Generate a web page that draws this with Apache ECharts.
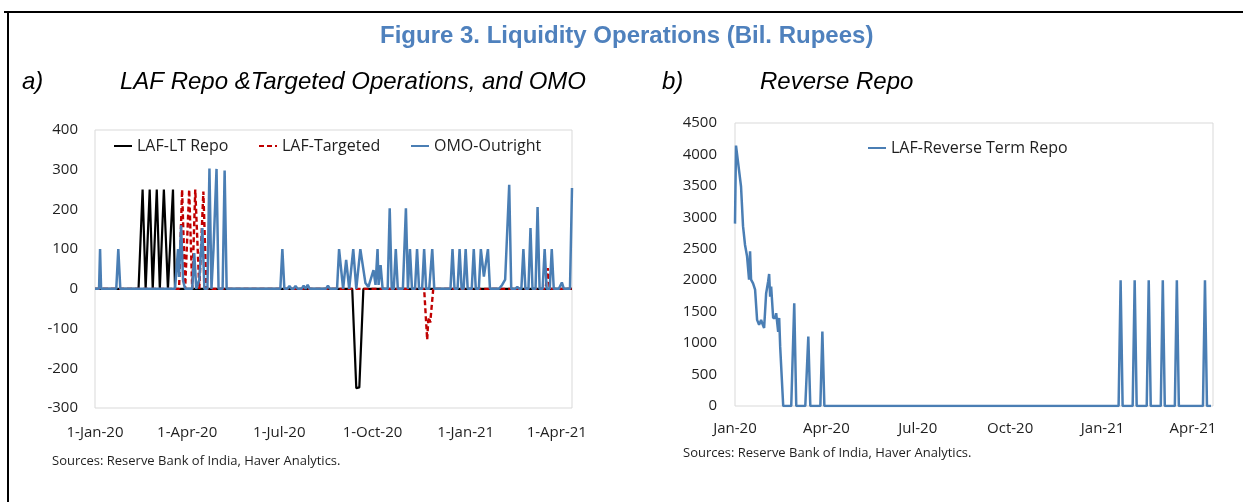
<!DOCTYPE html>
<html>
<head>
<meta charset="utf-8">
<title>Figure 3. Liquidity Operations (Bil. Rupees)</title>
<script src="https://cdn.jsdelivr.net/npm/echarts@6.0.0/dist/echarts.min.js"></script>
<style>
  html, body { margin: 0; padding: 0; background: #fff; }
  #chart { width: 1243px; height: 502px; }
</style>
</head>
<body>
<div id="chart"></div>
<script>
// panel a) LAF repo & targeted operations, and OMO (bil. rupees)
const ltRepoDates = ['2020-01-01', '2020-02-13', '2020-02-17', '2020-02-20', '2020-02-24', '2020-02-27',
  '2020-03-02', '2020-03-05', '2020-03-09', '2020-03-13', '2020-03-18', '2020-03-20',
  '2020-09-11', '2020-09-15', '2020-09-18', '2020-09-22', '2021-04-16']
const ltRepoValues = [0, 0, 250, 0, 250, 0,
  250, 0, 250, 0, 250, 0,
  0, -250, -248, 0, 0]

const targetedDates = ['2020-01-01', '2020-03-24', '2020-03-27', '2020-03-30', '2020-04-03', '2020-04-06',
  '2020-04-09', '2020-04-13', '2020-04-17', '2020-04-20',
  '2020-11-21', '2020-11-24', '2020-11-25', '2020-11-26', '2020-11-27', '2020-11-30',
  '2021-03-21', '2021-03-23', '2021-03-25', '2021-04-16']
const targetedValues = [0, 0, 250, 0, 250, 0,
  250, 0, 245, 0,
  0, -128, -82, -72, -85, 0,
  0, 52, 0, 0]

const omoDates = [
  '2020-01-01', '2020-01-05', '2020-01-06', '2020-01-07', '2020-01-22', '2020-01-24', '2020-01-26',
  '2020-03-20', '2020-03-23', '2020-03-24', '2020-03-26', '2020-03-28', '2020-03-30',
  '2020-04-06', '2020-04-08', '2020-04-10', '2020-04-13', '2020-04-16', '2020-04-18',
  '2020-04-21', '2020-04-23', '2020-04-25', '2020-04-27', '2020-04-30', '2020-05-02',
  '2020-05-06', '2020-05-08', '2020-05-10',
  '2020-07-02', '2020-07-04', '2020-07-06', '2020-07-09', '2020-07-11', '2020-07-13',
  '2020-07-15', '2020-07-17', '2020-07-19', '2020-07-23', '2020-07-25', '2020-07-27',
  '2020-07-29', '2020-07-31', '2020-08-16', '2020-08-18', '2020-08-20',
  '2020-08-27', '2020-08-29', '2020-09-02', '2020-09-05', '2020-09-08', '2020-09-12',
  '2020-09-15', '2020-09-19', '2020-09-24', '2020-09-27',
  '2020-10-02', '2020-10-04', '2020-10-06', '2020-10-07', '2020-10-09', '2020-10-11',
  '2020-10-16', '2020-10-18', '2020-10-20', '2020-10-22', '2020-10-24', '2020-10-26',
  '2020-10-31', '2020-11-03', '2020-11-05', '2020-11-07', '2020-11-09',
  '2020-11-12', '2020-11-14', '2020-11-16', '2020-11-19', '2020-11-21', '2020-11-23',
  '2020-11-26', '2020-11-29', '2020-12-01',
  '2020-12-17', '2020-12-19', '2020-12-21', '2020-12-24', '2020-12-26', '2020-12-28',
  '2020-12-30', '2021-01-01', '2021-01-03', '2021-01-07', '2021-01-09', '2021-01-11',
  '2021-01-14', '2021-01-16', '2021-01-19', '2021-01-23', '2021-01-25',
  '2021-02-03', '2021-02-06', '2021-02-09', '2021-02-13', '2021-02-15',
  '2021-02-19', '2021-02-21', '2021-02-23', '2021-02-25', '2021-02-27', '2021-03-01',
  '2021-03-04', '2021-03-06', '2021-03-08', '2021-03-11', '2021-03-13', '2021-03-15',
  '2021-03-18', '2021-03-20', '2021-03-22', '2021-03-25', '2021-03-27', '2021-03-29',
  '2021-04-03', '2021-04-06', '2021-04-08', '2021-04-14', '2021-04-16'
]
const omoValues = [
  0, 0, 100, 0, 0, 100, 0,
  0, 100, 30, 160, 20, 0,
  0, 90, 0, 23, 153, 0,
  0, 303, 0, 100, 302, 0,
  0, 298, 0,
  0, 100, 0, 0, 7, 0,
  0, 7, 0, 0, 8, 0,
  10, 0, 0, 8, 0,
  0, 100, 0, 73, 0, 100,
  0, 100, 15, 5,
  47, 10, 100, 10, 60, 0,
  0, 203, 0, 0, 100, 0,
  0, 203, 0, 100, 0,
  0, 100, 0, 0, 100, 0,
  0, 100, 0,
  0, 100, 0, 0, 100, 0,
  0, 100, 0, 0, 100, 0,
  0, 100, 31, 100, 0,
  0, 10, 23, 262, 0,
  0, 5, 0, 0, 100, 0,
  0, 153, 0, 0, 206, 0,
  0, 100, 0, 0, 100, 0,
  0, 16, 0, 0, 254
]

// panel b) LAF reverse term repo (bil. rupees)
const revRepoDates = [
  '2020-01-01', '2020-01-02', '2020-01-07', '2020-01-09', '2020-01-11', '2020-01-13',
  '2020-01-15', '2020-01-16', '2020-01-17', '2020-01-19', '2020-01-21', '2020-01-23',
  '2020-01-25', '2020-01-27', '2020-01-28', '2020-01-30', '2020-02-01', '2020-02-03',
  '2020-02-04', '2020-02-05', '2020-02-06', '2020-02-08', '2020-02-10', '2020-02-11',
  '2020-02-13', '2020-02-14', '2020-02-15', '2020-02-18',
  '2020-02-26', '2020-02-29', '2020-03-02', '2020-03-11', '2020-03-14', '2020-03-16',
  '2020-03-26', '2020-03-28', '2020-03-30',
  '2021-01-17', '2021-01-19', '2021-01-21', '2021-01-31', '2021-02-02', '2021-02-04',
  '2021-02-14', '2021-02-16', '2021-02-18', '2021-02-28', '2021-03-02', '2021-03-04',
  '2021-03-14', '2021-03-16', '2021-03-18', '2021-04-11', '2021-04-13', '2021-04-15',
  '2021-04-19'
]
const revRepoValues = [
  2900, 4140, 3490, 2860, 2560, 2380,
  2010, 2460, 2010, 1950, 1850, 1370,
  1290, 1370, 1320, 1240, 1790, 1980,
  2100, 1740, 1900, 1400, 1400, 1475,
  1180, 1400, 940, 0,
  0, 1635, 0, 0, 1105, 0,
  0, 1185, 0,
  0, 2000, 0, 0, 2000, 0,
  0, 2000, 0, 0, 2000, 0,
  0, 2000, 0, 0, 2000, 0,
  0
]

const leftTickDates = ['2020-01-01', '2020-04-01', '2020-07-01', '2020-10-01', '2021-01-01', '2021-04-01']
const rightTickDates = ['2020-01-01', '2020-04-01', '2020-07-01', '2020-10-01', '2021-01-01', '2021-04-01']
const MONTHS = ['Jan', 'Feb', 'Mar', 'Apr', 'May', 'Jun', 'Jul', 'Aug', 'Sep', 'Oct', 'Nov', 'Dec']

// dates go on a plain value axis as timestamps, so the labels can sit on quarter starts
const ts = (s) => {
  const [y, m, d] = s.split('-').map(Number)
  return new Date(y, m - 1, d).getTime()
}
const pairs = (dates, values) => dates.map((d, i) => [ts(d), values[i]])
const yy = (d) => String(d.getFullYear()).slice(2)

const BLUE = '#4a7eb4'
const LABEL = '#1f1f1f'
const FONT = 'Open Sans'

const axisText = { fontFamily: FONT, fontSize: 15, color: LABEL }
const legendBase = {
  top: 138,
  padding: 0,
  itemWidth: 18,
  itemHeight: 10,
  itemGap: 0,
  selectedMode: false,
  // line sample only, no marker dot
  itemStyle: { opacity: 0 },
  textStyle: { fontFamily: FONT, fontSize: 16, color: LABEL }
}
const titleText = { fontFamily: 'Liberation Sans', fontSize: 24, fontStyle: 'italic', fontWeight: 'normal', color: '#000' }
const sourceText = { fontFamily: FONT, fontSize: 13, fontWeight: 'normal', color: LABEL }

const chart = echarts.init(document.getElementById('chart'))

const option = {
  animation: false,
  backgroundColor: '#fff',
  title: [
    {
      text: 'Figure 3. Liquidity Operations (Bil. Rupees)',
      left: 380,
      top: 24,
      padding: 0,
      textStyle: { fontFamily: 'Liberation Sans', fontSize: 24, fontWeight: 'bold', color: '#4f81bd' }
    },
    { text: 'a)', left: 22, top: 70, padding: 0, textStyle: titleText },
    { text: 'LAF Repo &Targeted Operations, and OMO', left: 120, top: 70, padding: 0, textStyle: titleText },
    { text: 'b)', left: 662, top: 70, padding: 0, textStyle: titleText },
    { text: 'Reverse Repo', left: 760, top: 70, padding: 0, textStyle: titleText },
    { text: 'Sources: Reserve Bank of India, Haver Analytics.', left: 52, top: 455, padding: 0, textStyle: sourceText },
    { text: 'Sources: Reserve Bank of India, Haver Analytics.', left: 683, top: 447, padding: 0, textStyle: sourceText }
  ],
  legend: [
    Object.assign({}, legendBase, { left: 113, data: ['LAF-LT Repo'] }),
    Object.assign({}, legendBase, { left: 258, data: ['LAF-Targeted'] }),
    Object.assign({}, legendBase, { left: 410, data: ['OMO-Outright'] }),
    Object.assign({}, legendBase, { left: 867, top: 140, data: ['LAF-Reverse Term Repo'] })
  ],
  grid: [
    { left: 95, top: 130, width: 477, height: 278, show: true, borderColor: '#d9d9d9', borderWidth: 1 },
    { left: 735, top: 123, width: 478, height: 283, show: true, borderColor: '#d9d9d9', borderWidth: 1 }
  ],
  xAxis: [
    {
      type: 'value',
      gridIndex: 0,
      min: ts('2020-01-01'),
      max: ts('2021-04-16'),
      axisLine: { show: false, onZero: false },
      axisTick: { show: false },
      splitLine: { show: false },
      axisLabel: Object.assign({}, axisText, {
        margin: 17,
        customValues: leftTickDates.map(ts),
        formatter: (v) => {
          const d = new Date(v)
          return d.getDate() + '-' + MONTHS[d.getMonth()] + '-' + yy(d)
        }
      })
    },
    {
      type: 'value',
      gridIndex: 1,
      min: ts('2020-01-01'),
      max: ts('2021-04-21'),
      axisLine: { show: false, onZero: false },
      axisTick: { show: false },
      splitLine: { show: false },
      axisLabel: Object.assign({}, axisText, {
        margin: 15,
        customValues: rightTickDates.map(ts),
        formatter: (v) => {
          const d = new Date(v)
          return MONTHS[d.getMonth()] + '-' + yy(d)
        }
      })
    }
  ],
  yAxis: [
    {
      type: 'value',
      gridIndex: 0,
      min: -300,
      max: 400,
      interval: 100,
      axisLine: { show: false },
      axisTick: { show: false },
      splitLine: { show: false },
      axisLabel: Object.assign({}, axisText, { margin: 17 })
    },
    {
      type: 'value',
      gridIndex: 1,
      min: 0,
      max: 4500,
      interval: 500,
      axisLine: { show: false },
      axisTick: { show: false },
      splitLine: { show: false },
      axisLabel: Object.assign({}, axisText, { margin: 18, formatter: (v) => String(v) })
    }
  ],
  series: [
    {
      name: 'LAF-LT Repo',
      type: 'line',
      xAxisIndex: 0,
      yAxisIndex: 0,
      symbol: 'none',
      data: pairs(ltRepoDates, ltRepoValues),
      itemStyle: { color: '#000' },
      lineStyle: { color: '#000', width: 2.2 }
    },
    {
      name: 'LAF-Targeted',
      type: 'line',
      xAxisIndex: 0,
      yAxisIndex: 0,
      symbol: 'none',
      data: pairs(targetedDates, targetedValues),
      itemStyle: { color: '#c00000' },
      lineStyle: { color: '#c00000', width: 2.4, type: [5, 3] }
    },
    {
      name: 'OMO-Outright',
      type: 'line',
      xAxisIndex: 0,
      yAxisIndex: 0,
      symbol: 'none',
      data: pairs(omoDates, omoValues),
      itemStyle: { color: BLUE },
      lineStyle: { color: BLUE, width: 2.5 }
    },
    {
      name: 'LAF-Reverse Term Repo',
      type: 'line',
      xAxisIndex: 1,
      yAxisIndex: 1,
      symbol: 'none',
      data: pairs(revRepoDates, revRepoValues),
      itemStyle: { color: BLUE },
      lineStyle: { color: BLUE, width: 2.5 }
    }
  ],
  graphic: [
    // black frame round the figure (only the top and left edges are in view)
    { type: 'line', shape: { x1: 4, y1: 12, x2: 1243, y2: 12 }, style: { stroke: '#000', lineWidth: 2 } },
    { type: 'line', shape: { x1: 8, y1: 12, x2: 8, y2: 502 }, style: { stroke: '#000', lineWidth: 2 } }
  ]
}

chart.setOption(option)
</script>
</body>
</html>
